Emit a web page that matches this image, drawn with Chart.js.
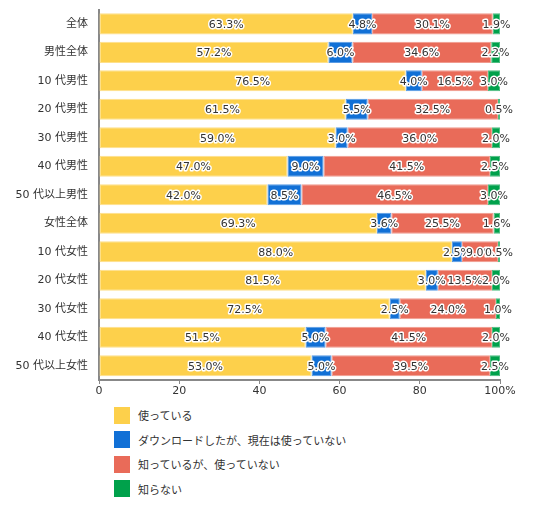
<!DOCTYPE html>
<html>
<head>
<meta charset="utf-8">
<script src="https://cdn.jsdelivr.net/npm/chart.js"></script>
<style>
  body { margin: 0; background: #fff; font-family: "Noto Sans CJK JP", sans-serif; }
  #wrap { position: relative; width: 538px; height: 510px; }
  #legend { position: absolute; left: 114px; top: 403px; font-size: 11px; color: #333; }
  .item { display: flex; align-items: center; height: 24.5px; }
  .box { width: 16px; height: 17px; margin-right: 8px; }
</style>
</head>
<body>
<div id="wrap">
  <canvas id="chart" width="538" height="400"></canvas>
  <div id="legend"></div>
</div>
<script>
// data
const categories = ['全体', '男性全体', '10 代男性', '20 代男性', '30 代男性', '40 代男性', '50 代以上男性',
    '女性全体', '10 代女性', '20 代女性', '30 代女性', '40 代女性', '50 代以上女性'];
const seriesNames = ['使っている', 'ダウンロードしたが、現在は使っていない', '知っているが、使っていない', '知らない'];
const using = [63.3, 57.2, 76.5, 61.5, 59.0, 47.0, 42.0, 69.3, 88.0, 81.5, 72.5, 51.5, 53.0];
const downloadedNotUsing = [4.8, 6.0, 4.0, 5.5, 3.0, 9.0, 8.5, 3.6, 2.5, 3.0, 2.5, 5.0, 5.0];
const knowNotUsing = [30.1, 34.6, 16.5, 32.5, 36.0, 41.5, 46.5, 25.5, 9.0, 13.5, 24.0, 41.5, 39.5];
const dontKnow = [1.9, 2.2, 3.0, 0.5, 2.0, 2.5, 3.0, 1.6, 0.5, 2.0, 1.0, 2.0, 2.5];
const xTicks = [0, 20, 40, 60, 80, 100];

const colors = ['#FDD04B', '#1170D6', '#E96B59', '#00A14B'];
const edgeColors = ['#FEE08A', '#5A9BE3', '#F09A8E', '#4DBD80'];
const NUM_FONT = '"DejaVu Sans", "Noto Sans CJK JP", sans-serif';

// value labels drawn centered in each segment
const segmentLabels = {
    id: 'segmentLabels',
    afterDatasetsDraw(chart) {
        const ctx = chart.ctx;
        ctx.save();
        ctx.font = '11px ' + NUM_FONT;
        ctx.textAlign = 'center';
        ctx.textBaseline = 'middle';
        ctx.lineJoin = 'round';
        chart.data.datasets.forEach((ds, i) => {
            const meta = chart.getDatasetMeta(i);
            meta.data.forEach((bar, j) => {
                const text = ds.data[j].toFixed(1) + '%';
                const x = (bar.base + bar.x) / 2;
                const y = bar.y + 1;
                ctx.strokeStyle = '#fff';
                ctx.lineWidth = 3;
                ctx.strokeText(text, x, y);
                ctx.fillStyle = '#333';
                ctx.fillText(text, x, y);
            });
        });
        ctx.restore();
    }
};

const seriesData = [using, downloadedNotUsing, knowNotUsing, dontKnow];

const chart = new Chart(document.getElementById('chart'), {
    type: 'bar',
    data: {
        labels: categories,
        datasets: seriesData.map((d, i) => ({
            label: seriesNames[i],
            data: d,
            backgroundColor: colors[i],
            borderColor: edgeColors[i],
            borderWidth: 1,
            borderSkipped: false,
            barPercentage: 0.74,
            categoryPercentage: 1
        }))
    },
    options: {
        indexAxis: 'y',
        responsive: false,
        animation: false,
        layout: { padding: { top: 9, right: 38, left: 0, bottom: 0 } },
        plugins: {
            legend: { display: false },
            tooltip: { enabled: false }
        },
        scales: {
            x: {
                stacked: true,
                min: 0,
                max: 100,
                afterBuildTicks: s => { s.ticks = xTicks.map(v => ({ value: v })); },
                afterFit: s => { s.height = 20; },
                ticks: {
                    color: '#333',
                    font: { family: NUM_FONT, size: 11 },
                    padding: 1,
                    maxRotation: 0,
                    callback: v => v === 100 ? '100%' : String(v)
                },
                grid: { drawOnChartArea: false, drawTicks: true, tickLength: 4, color: '#888' },
                border: { display: true, color: '#888', width: 2 }
            },
            y: {
                stacked: true,
                afterFit: s => { s.width = 99; },
                ticks: {
                    color: '#333',
                    font: { family: NUM_FONT, size: 11 },
                    padding: 3
                },
                grid: { display: false },
                border: { display: true, color: '#888', width: 2 }
            }
        }
    },
    plugins: [segmentLabels]
});

// legend
const legend = document.getElementById('legend');
seriesNames.forEach((name, i) => {
    const row = document.createElement('div');
    row.className = 'item';
    row.innerHTML = '<span class="box" style="background:' + colors[i] + '"></span><span>' + name + '</span>';
    legend.appendChild(row);
});
</script>
</body>
</html>
